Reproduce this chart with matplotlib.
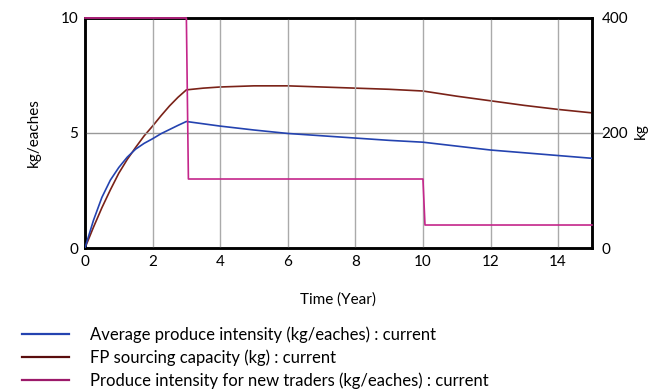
import matplotlib
matplotlib.use('Agg')
import matplotlib.pyplot as plt
from matplotlib.lines import Line2D

plt.rcParams['font.family'] = ['Lato', 'DejaVu Sans']

# Time axis (years)
t_ramp = [0, 0.25, 0.5, 0.75, 1, 1.25, 1.5, 1.75, 2, 2.25, 2.5, 2.75, 3,
          3.5, 4, 5, 6, 7, 8, 9, 10, 11, 12, 13, 14, 15]

# Average produce intensity (kg/eaches), left axis
avg_intensity = [0, 1.2, 2.2, 2.95, 3.5, 3.95, 4.3, 4.55, 4.75, 4.97, 5.15, 5.33, 5.5,
                 5.4, 5.3, 5.13, 4.98, 4.88, 4.78, 4.68, 4.6, 4.43, 4.26, 4.14, 4.02, 3.9]

# FP sourcing capacity (kg), right axis
fp_capacity = [0, 36, 70, 101, 130, 154, 175, 195, 212, 230, 247, 262, 275,
               278, 280, 282, 282, 280, 278, 276, 273, 264, 256, 248, 241, 235]

# Produce intensity for new traders (kg/eaches), left axis
t_step = [0, 3, 3.06, 10, 10.06, 15]
new_trader_intensity = [10, 10, 3, 3, 1, 1]

labels = ['Average produce intensity (kg/eaches) : current',
          'FP sourcing capacity (kg) : current',
          'Produce intensity for new traders (kg/eaches) : current']
c_blue = '#2443b0'
c_brown = '#7a2218'
c_pink = '#c4268a'

fig = plt.figure(figsize=(6.66, 3.91), dpi=100)
ax = fig.add_axes([0.1276, 0.3657, 0.7612, 0.5883])
ax2 = ax.twinx()
# left axes on top so the pink line shows over the frame
ax.set_zorder(ax2.get_zorder() + 1)
ax.patch.set_visible(False)

# grid
for x in [2, 4, 6, 8, 10, 12, 14]:
    ax.axvline(x, color='#aaaaaa', lw=1, zorder=0)
ax.axhline(5, color='#999999', lw=1, zorder=0)

ax.plot(t_step, new_trader_intensity, color=c_pink, lw=1.2, zorder=4, clip_on=False)
ax.plot(t_ramp, avg_intensity, color=c_blue, lw=1.2, zorder=3)
ax2.plot(t_ramp, fp_capacity, color=c_brown, lw=1.2, zorder=3)

ax.set_xlim(0, 15)
ax.set_ylim(0, 10)
ax2.set_ylim(0, 400)
ax.set_xticks([0, 2, 4, 6, 8, 10, 12, 14])
ax.set_yticks([0, 5, 10])
ax2.set_yticks([0, 200, 400])
ax.tick_params(axis='both', length=0, labelsize=11, pad=5)
ax2.tick_params(axis='y', length=0, labelsize=11, pad=7)
for sp in ax.spines.values():
    sp.set_linewidth(1.8)
for sp in ax2.spines.values():
    sp.set_linewidth(1.8)

# small tick at 200 on the right
ax2.plot([15.05, 15.3], [200, 200], color='#888888', lw=1, clip_on=False)

ax.set_ylabel('kg/eaches', fontsize=11, labelpad=14)
fig.text(0.962, 0.665, 'kg', rotation=90, fontsize=11, ha='center', va='center')
ax.set_xlabel('Time (Year)', fontsize=11, labelpad=17)

handles = [Line2D([], [], color=c_blue, lw=1.6),
           Line2D([], [], color='#5a0d0d', lw=1.6),
           Line2D([], [], color='#9c1a6a', lw=1.6)]
fig.legend(handles, labels, loc='upper left', bbox_to_anchor=(0.033, 0.165),
           frameon=False, fontsize=12, handlelength=2.8, handletextpad=1.3,
           labelspacing=0.38, borderaxespad=0, borderpad=0)

fig.savefig('out.png', dpi=100)
